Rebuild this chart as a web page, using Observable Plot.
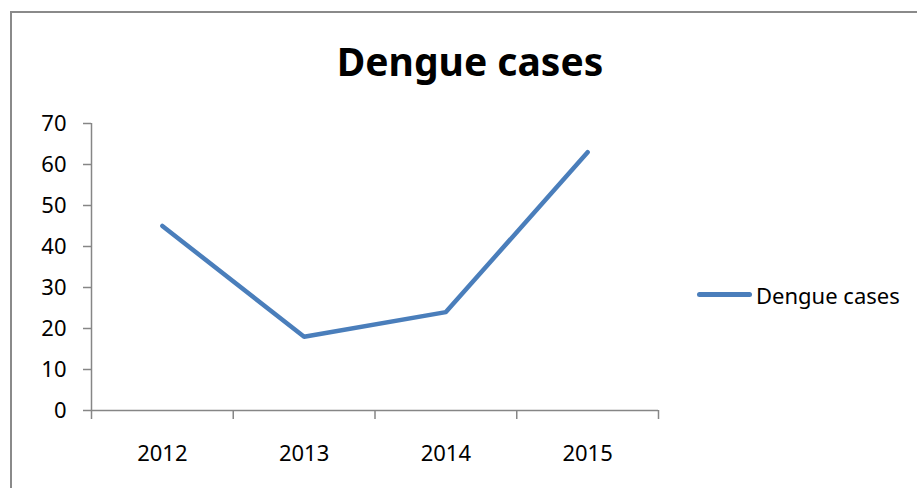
<!DOCTYPE html>
<html>
<head>
<meta charset="utf-8">
<script src="https://cdn.jsdelivr.net/npm/d3@7"></script>
<script src="https://cdn.jsdelivr.net/npm/@observablehq/plot@0.6"></script>
<style>
  html, body { margin: 0; padding: 0; background: #fff; overflow: hidden; }
  #wrap { position: relative; width: 917px; height: 488px; overflow: hidden; font-family: "Noto Sans", sans-serif; }
  #frame { position: absolute; left: 10px; top: 11px; width: 1000px; height: 600px; border: 2px solid #8a8a8a; box-sizing: border-box; }
  #title { position: absolute; left: 0; top: 40.5px; width: 940px; text-align: center; font-size: 39px; font-weight: bold; line-height: 1; color: #000; }
  #chart { position: absolute; left: 0; top: 0; }
  #legend-line { position: absolute; left: 697px; top: 291.5px; width: 55px; height: 5px; border-radius: 3px; }
  #legend-text { position: absolute; left: 756px; top: 283.5px; font-size: 22px; line-height: 1; color: #000; white-space: nowrap; }
</style>
</head>
<body>
<div id="wrap">
  <div id="frame"></div>
  <div id="chart"></div>
  <div id="title"></div>
  <div id="legend-line"></div>
  <div id="legend-text"></div>
</div>
<script>
const chartTitle = "Dengue cases";
const seriesName = "Dengue cases";
const years = [2012, 2013, 2014, 2015];
const cases = [45, 18, 24, 63];
const yTicks = [0, 10, 20, 30, 40, 50, 60, 70];
const lineColor = "#4A7EBB";
const axisColor = "#868686";

const data = years.map((year, i) => ({year, cases: cases[i]}));
const bounds = [...years.map(y => y - 0.5), years[years.length - 1] + 0.5];

const chart = Plot.plot({
  width: 917,
  height: 488,
  marginLeft: 91,
  marginRight: 259,
  marginTop: 123,
  marginBottom: 78,
  x: {domain: [bounds[0], bounds[bounds.length - 1]]},
  y: {domain: [yTicks[0], yTicks[yTicks.length - 1]]},
  style: {fontFamily: "Noto Sans", fontSize: "22px", background: "transparent", overflow: "visible"},
  marks: [
    Plot.ruleX([bounds[0]], {y1: yTicks[0], y2: yTicks[yTicks.length - 1], stroke: axisColor, strokeWidth: 1.5}),
    Plot.ruleY([0], {stroke: axisColor, strokeWidth: 1.5}),
    Plot.axisY({ticks: yTicks, tickSize: 8, tickPadding: 17, stroke: axisColor, strokeWidth: 1.5, fill: "black", fontSize: 22, label: null, tickFormat: d => String(d)}),
    Plot.axisX({ticks: bounds, tickSize: 9, tickFormat: () => "", stroke: axisColor, strokeWidth: 1.5, label: null}),
    Plot.axisX({ticks: years, tickSize: 0, tickPadding: 35, tickFormat: d => String(d), fill: "black", fontSize: 22, label: null}),
    Plot.lineY(data, {x: "year", y: "cases", stroke: lineColor, strokeWidth: 4.5, strokeLinecap: "round"})
  ]
});
document.getElementById("chart").appendChild(chart);
document.getElementById("title").textContent = chartTitle;
document.getElementById("legend-text").textContent = seriesName;
document.getElementById("legend-line").style.background = lineColor;
</script>
</body>
</html>
